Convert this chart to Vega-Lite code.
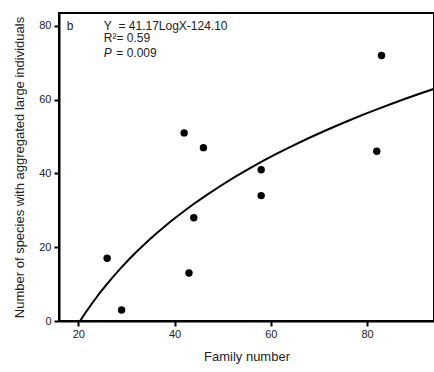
{
  "$schema": "https://vega.github.io/schema/vega-lite/v6.json",
  "width": 375,
  "height": 308,
  "autosize": {"type": "none"},
  "padding": {"left": 59, "top": 13, "right": 0, "bottom": 51},
  "config": {
    "font": "Liberation Sans",
    "view": {"stroke": "black", "strokeWidth": 2},
    "axis": {
      "domainColor": "black", "domainWidth": 2, "tickColor": "black", "tickWidth": 2, "tickSize": 5,
      "labelFont": "Liberation Sans", "labelFontSize": 11, "labelColor": "#222",
      "titleFont": "Liberation Sans", "titleFontSize": 13, "titleFontWeight": "normal", "titleColor": "#222",
      "grid": false
    }
  },
  "datasets": {
    "pts": [
      {"family": 26, "species": 17},
      {"family": 29, "species": 3},
      {"family": 42, "species": 51},
      {"family": 43, "species": 13},
      {"family": 44, "species": 28},
      {"family": 46, "species": 47},
      {"family": 58, "species": 41},
      {"family": 58, "species": 34},
      {"family": 82, "species": 46},
      {"family": 83, "species": 72}
    ],
    "notes": [
      {"x": 17.6, "y": 80.1, "t": "b"},
      {"x": 25.3, "y": 80.1, "t": "Y\u00a0\u00a0= 41.17LogX-124.10"},
      {"x": 25.3, "y": 76.6, "t": "R²= 0.59"},
      {"x": 27.9, "y": 72.7, "t": "\u00a0= 0.009"}
    ],
    "italic": [
      {"x": 25.3, "y": 72.7, "t": "P"}
    ]
  },
  "layer": [
    {
      "data": {"name": "pts"},
      "transform": [{"regression": "species", "on": "family", "method": "log", "extent": [20, 94]}],
      "mark": {"type": "line", "color": "black", "strokeWidth": 2, "clip": true},
      "encoding": {
        "x": {"field": "family", "type": "quantitative"},
        "y": {"field": "species", "type": "quantitative"}
      }
    },
    {
      "data": {"name": "pts"},
      "mark": {"type": "circle", "color": "black", "opacity": 1, "size": 55},
      "encoding": {
        "x": {"field": "family", "type": "quantitative",
              "scale": {"domain": [16, 93.9], "nice": false, "zero": false},
              "axis": {"values": [20, 40, 60, 80], "title": "Family number", "labelPadding": 2, "titlePadding": 11}},
        "y": {"field": "species", "type": "quantitative",
              "scale": {"domain": [0, 83.5], "nice": false},
              "axis": {"values": [0, 20, 40, 60, 80], "title": "Number of species with aggregated large individuals", "labelPadding": 3, "titlePadding": 12}}
      }
    },
    {
      "data": {"name": "notes"},
      "mark": {"type": "text", "align": "left", "baseline": "middle", "fontSize": 12, "color": "#222", "font": "Liberation Sans"},
      "encoding": {
        "x": {"field": "x", "type": "quantitative"},
        "y": {"field": "y", "type": "quantitative"},
        "text": {"field": "t"}
      }
    },
    {
      "data": {"name": "italic"},
      "mark": {"type": "text", "align": "left", "baseline": "middle", "fontSize": 12, "fontStyle": "italic", "color": "#222", "font": "Liberation Sans"},
      "encoding": {
        "x": {"field": "x", "type": "quantitative"},
        "y": {"field": "y", "type": "quantitative"},
        "text": {"field": "t"}
      }
    }
  ]
}
